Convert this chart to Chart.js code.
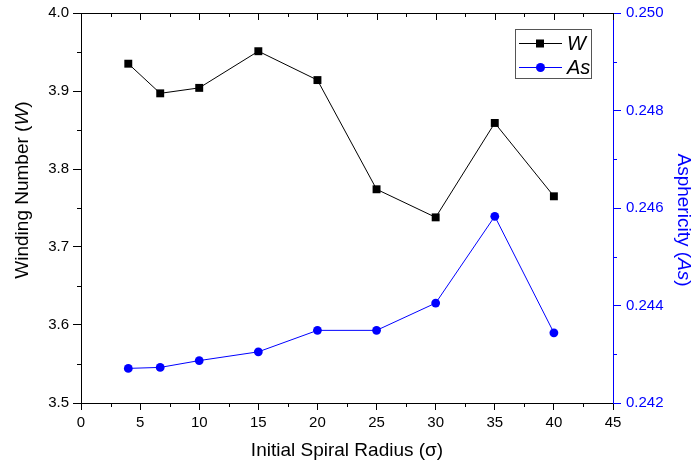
<!DOCTYPE html>
<html>
<head>
<meta charset="utf-8">
<script src="https://cdn.jsdelivr.net/npm/chart.js@4"></script>
<style>
    html, body { margin: 0; padding: 0; background: #fff; }
    #wrap { width: 693px; height: 471px; }
</style>
</head>
<body>
<div id="wrap"><canvas id="chart" width="693" height="471"></canvas></div>
<script>
// Data
const radius = [4, 6.7, 10, 15, 20, 25, 30, 35, 40];
const winding = [3.935, 3.897, 3.904, 3.951, 3.914, 3.774, 3.738, 3.859, 3.765];
const asphericity = [0.24271, 0.24273, 0.24287, 0.24305, 0.24349, 0.24349, 0.24405, 0.24583, 0.24344];

// Axis ticks
const xTicks = [0, 5, 10, 15, 20, 25, 30, 35, 40, 45];
const wTicks = [3.5, 3.6, 3.7, 3.8, 3.9, 4.0];
const asTicks = [0.242, 0.244, 0.246, 0.248, 0.250];

const FONT = '"Liberation Sans", Arial, sans-serif';
const BLUE = '#0000ff';

function toPoints(xs, ys) {
    return xs.map((x, i) => ({ x: x, y: ys[i] }));
}

function fixTicks(list) {
    return function (scale) {
        scale.ticks = list.map(v => ({ value: v }));
    };
}

function minors(list) {
    const out = [];
    for (let i = 0; i < list.length - 1; i++) out.push((list[i] + list[i + 1]) / 2);
    return out;
}

// minor ticks, mirrored top axis, legend and axis titles
const decorPlugin = {
    id: 'decor',
    afterDraw(chart) {
        const ctx = chart.ctx;
        const area = chart.chartArea;
        const sx = chart.scales.x, sy = chart.scales.y, sy1 = chart.scales.y1;
        ctx.save();

        const box = (x, y, w, h, color) => {
            ctx.fillStyle = color;
            ctx.fillRect(x, y, w, h);
        };

        // top frame with inward ticks
        box(area.left, area.top, area.right - area.left, 1, '#000');
        xTicks.forEach(v => box(Math.round(sx.getPixelForValue(v)), area.top, 1, 7, '#000'));

        // minor ticks
        minors(xTicks).forEach(v => {
            const px = Math.round(sx.getPixelForValue(v));
            box(px, area.bottom, 1, 4, '#000');
            box(px, area.top, 1, 4, '#000');
        });
        minors(wTicks).forEach(v => box(area.left - 4, Math.round(sy.getPixelForValue(v)), 4, 1, '#000'));
        minors(asTicks).forEach(v => box(area.right, Math.round(sy1.getPixelForValue(v)), 4, 1, BLUE));

        // axis titles
        ctx.fillStyle = '#000';
        ctx.textBaseline = 'middle';
        ctx.textAlign = 'center';
        ctx.font = '19px ' + FONT;
        ctx.fillText('Initial Spiral Radius (\u03c3)', (area.left + area.right) / 2, 451);

        const mixed = (parts, cx, cy, rot, color) => {
            ctx.save();
            ctx.translate(cx, cy);
            ctx.rotate(rot);
            ctx.fillStyle = color;
            ctx.textAlign = 'left';
            let total = 0;
            parts.forEach(p => { ctx.font = p[1] + '19px ' + FONT; total += ctx.measureText(p[0]).width; });
            let x = -total / 2;
            parts.forEach(p => {
                ctx.font = p[1] + '19px ' + FONT;
                ctx.fillText(p[0], x, 0);
                x += ctx.measureText(p[0]).width;
            });
            ctx.restore();
        };
        mixed([['Winding Number (', ''], ['W', 'italic '], [')', '']], 23, 190, -Math.PI / 2, '#000');
        mixed([['Asphericity (', ''], ['As', 'italic '], [')', '']], 683, 220, Math.PI / 2, BLUE);

        // legend
        ctx.strokeStyle = '#555';
        ctx.lineWidth = 1;
        ctx.setLineDash([]);
        ctx.strokeRect(515.5, 29.5, 76, 49);
        const rows = [43, 67];
        chart.data.datasets.forEach((ds, i) => {
            const y = rows[i];
            box(519, y, 43, 1, ds.borderColor);
            ctx.fillStyle = ds.pointBackgroundColor;
            if (ds.pointStyle === 'rect') {
                ctx.fillRect(536, y - 3.5, 8, 8);
            } else {
                ctx.beginPath();
                ctx.arc(540.5, y + 0.5, 4.5, 0, Math.PI * 2);
                ctx.fill();
            }
            ctx.fillStyle = '#000';
            ctx.font = 'italic 20px ' + FONT;
            ctx.textAlign = 'left';
            ctx.fillText(ds.label, 567, y + 1);
        });

        ctx.restore();
    }
};

new Chart(document.getElementById('chart'), {
    type: 'line',
    data: {
        datasets: [
            {
                label: 'W',
                data: toPoints(radius, winding),
                yAxisID: 'y',
                borderColor: '#000',
                backgroundColor: '#000',
                pointBackgroundColor: '#000',
                pointBorderColor: '#000',
                pointStyle: 'rect',
                pointRadius: 5.6,
                pointBorderWidth: 0,
                borderWidth: 1,
                tension: 0
            },
            {
                label: 'As',
                data: toPoints(radius, asphericity),
                yAxisID: 'y1',
                borderColor: BLUE,
                backgroundColor: BLUE,
                pointBackgroundColor: BLUE,
                pointBorderColor: BLUE,
                pointStyle: 'circle',
                pointRadius: 4.4,
                pointBorderWidth: 0,
                borderWidth: 1,
                tension: 0
            }
        ]
    },
    options: {
        responsive: false,
        animation: false,
        layout: { padding: { top: 13, left: 0, right: 0, bottom: 0 } },
        plugins: {
            legend: { display: false },
            tooltip: { enabled: false }
        },
        scales: {
            x: {
                type: 'linear',
                min: 0,
                max: 45,
                afterBuildTicks: fixTicks(xTicks),
                afterFit(s) { s.height = 68; s.paddingLeft = 0; s.paddingRight = 0; },
                grid: { display: true, drawOnChartArea: false, drawTicks: true, tickLength: 7, tickColor: '#000', tickWidth: 1 },
                border: { display: true, color: '#000' },
                ticks: { color: '#000', font: { family: FONT, size: 15 }, padding: 4 }
            },
            y: {
                position: 'left',
                min: 3.5,
                max: 4.0,
                afterBuildTicks: fixTicks(wTicks),
                afterFit(s) { s.width = 81; s.paddingTop = 0; s.paddingBottom = 0; },
                grid: { display: true, drawOnChartArea: false, drawTicks: true, tickLength: 8, tickColor: '#000', tickWidth: 1 },
                border: { display: true, color: '#000' },
                ticks: {
                    color: '#000',
                    font: { family: FONT, size: 15 },
                    padding: 4,
                    callback: v => v.toFixed(1)
                }
            },
            y1: {
                position: 'right',
                min: 0.242,
                max: 0.250,
                afterBuildTicks: fixTicks(asTicks),
                afterFit(s) { s.width = 80; s.paddingTop = 0; s.paddingBottom = 0; },
                grid: { display: true, drawOnChartArea: false, drawTicks: true, tickLength: 8, tickColor: BLUE, tickWidth: 1 },
                border: { display: true, color: BLUE },
                ticks: {
                    color: BLUE,
                    font: { family: FONT, size: 15 },
                    padding: 5,
                    callback: v => v.toFixed(3)
                }
            }
        }
    },
    plugins: [decorPlugin]
});
</script>
</body>
</html>
